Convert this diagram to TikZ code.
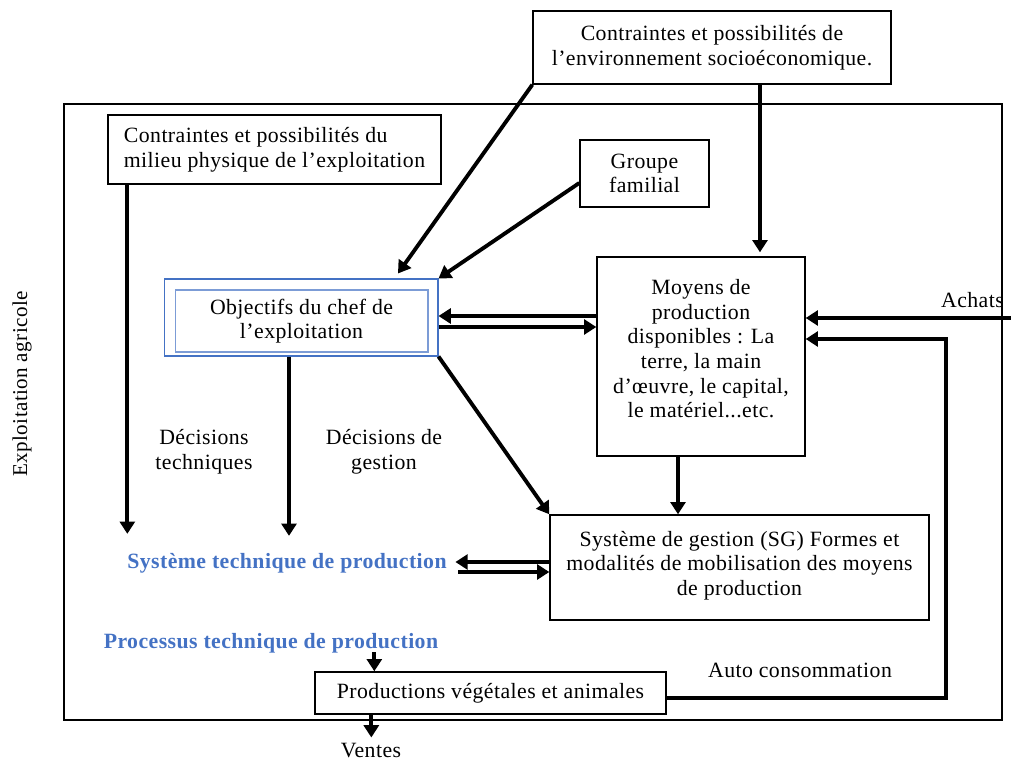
\documentclass[tikz,border=0pt]{standalone}
\usepackage{fontspec}
\setmainfont{Liberation Serif}[LetterSpace=2]
\usetikzlibrary{arrows.meta}
\definecolor{wordblue}{RGB}{68,114,196}

\begin{document}
\begin{tikzpicture}[x=0.02cm, y=-0.02cm,
    font=\fontsize{12.4}{14}\selectfont,
    box/.style={draw, line width=0.8pt, inner sep=2pt, align=center},
    flow/.style={line width=2.2pt, -{Triangle[length=7pt,width=8.5pt]}},
    bluetitle/.style={font=\fontsize{12.4}{14}\selectfont\bfseries, text=wordblue}]
      % \draw[help lines] (0,0) grid[step=50] (1011,763);
      \useasboundingbox (0,0) rectangle (1011,763);
      \draw[line width=0.8pt] (64,104) rectangle (1002,720);
      \node[rotate=90, font=\fontsize{12}{14}\selectfont] (exploit) at (22,384) {Exploitation agricole};

      \node[box, minimum width=7.16cm, minimum height=1.46cm] (env) at (712,47.5) {Contraintes et possibilités de\\l’environnement socioéconomique.};
      \node[box, minimum width=6.66cm, minimum height=1.38cm, align=left] (milieu) at (274.5,149.5) {Contraintes et possibilités du\\milieu physique de l’exploitation};
      \node[box, minimum width=2.58cm, minimum height=1.34cm] (groupe) at (644.5,173.5) {Groupe\\familial};
      \node[draw=wordblue, line width=0.6pt, minimum width=5.48cm, minimum height=1.54cm] (objcadre) at (301,317.5) {};
      \node[draw=wordblue!70, line width=0.6pt, minimum width=5.06cm, minimum height=1.24cm, align=center] (objectifs) at (301.5,321) {Objectifs du chef de\\l’exploitation};
      \node[box, minimum width=4.16cm, minimum height=3.98cm] (moyens) at (701,356.5) {Moyens de\\production\\disponibles : La\\terre, la main\\d’œuvre, le capital,\\le matériel...etc.\\[-5pt]};
      \node[box, minimum width=7.58cm, minimum height=2.1cm] (sg) at (739.5,567.5) {Système de gestion (SG) Formes et\\modalités de mobilisation des moyens\\de production\\[-9pt]};
      \node[box, minimum width=7.02cm, minimum height=0.84cm] (prod) at (490.5,693) {Productions végétales et animales};

      \node[bluetitle] (systeme) at (287,563) {Système technique de production};
      \node[bluetitle] (processus) at (271,643) {Processus technique de production};
      \node[align=center] (dtech) at (204,452) {Décisions\\techniques};
      \node[align=center] (dgest) at (384,452) {Décisions de\\gestion};
      \node (auto) at (800,670) {Auto consommation};
      \node[anchor=east] (achats) at (1010,300) {Achats};
      \node (ventes) at (371,751) {Ventes};
      \coordinate (achatsin) at (1015,318);

      \draw[flow] (env.south west) -- ([xshift=1.94cm, yshift=0.1cm]objcadre.north);
      \draw[flow] ([yshift=-0.19cm]groupe.west) -- (objcadre.north east);
      \draw[flow] ([xshift=0.96cm]env.south) -- ([xshift=0.96cm, yshift=0.08cm]env.south |- moyens.north);
      \draw[flow] ([xshift=0.4cm]milieu.south west) -- ([xshift=0.4cm, yshift=0.26cm]milieu.south west |- systeme.north);
      \draw[flow] ([xshift=-0.24cm]objcadre.south) -- ([xshift=-0.24cm, yshift=0.22cm]objcadre.south |- systeme.north);
      \draw[flow] ([yshift=0.81cm]moyens.west) -- ([yshift=0.81cm]moyens.west -| objcadre.east);
      \draw[flow] ([yshift=0.59cm]moyens.west -| objcadre.east) -- ([yshift=0.59cm]moyens.west);
      \draw[flow] (objcadre.south east) -- (sg.north west);
      \draw[flow] ([xshift=-0.46cm]moyens.south) -- ([xshift=-0.46cm]moyens.south |- sg.north);
      \draw[flow] ([yshift=0.11cm]sg.west) -- ([yshift=0.11cm, xshift=0.05cm]sg.west -| systeme.east);
      \draw[flow] ([yshift=-0.09cm, xshift=0.11cm]sg.west -| systeme.east) -- ([yshift=-0.09cm]sg.west);
      \draw[flow] ([xshift=1.2cm, yshift=0.14cm]prod.north west |- processus.south) -- ([xshift=1.2cm]prod.north west);
      \draw[flow] ([xshift=1.14cm]prod.south west) -- ([xshift=1.14cm]prod.south west |- ventes.north);
      \draw[flow] ([yshift=-0.1cm]prod.east) -| ([xshift=2.8cm, yshift=0.35cm]moyens.east) -- ([yshift=0.35cm]moyens.east);
      \draw[flow] (achatsin) -- (achatsin -| moyens.east);
\end{tikzpicture}
\end{document}
